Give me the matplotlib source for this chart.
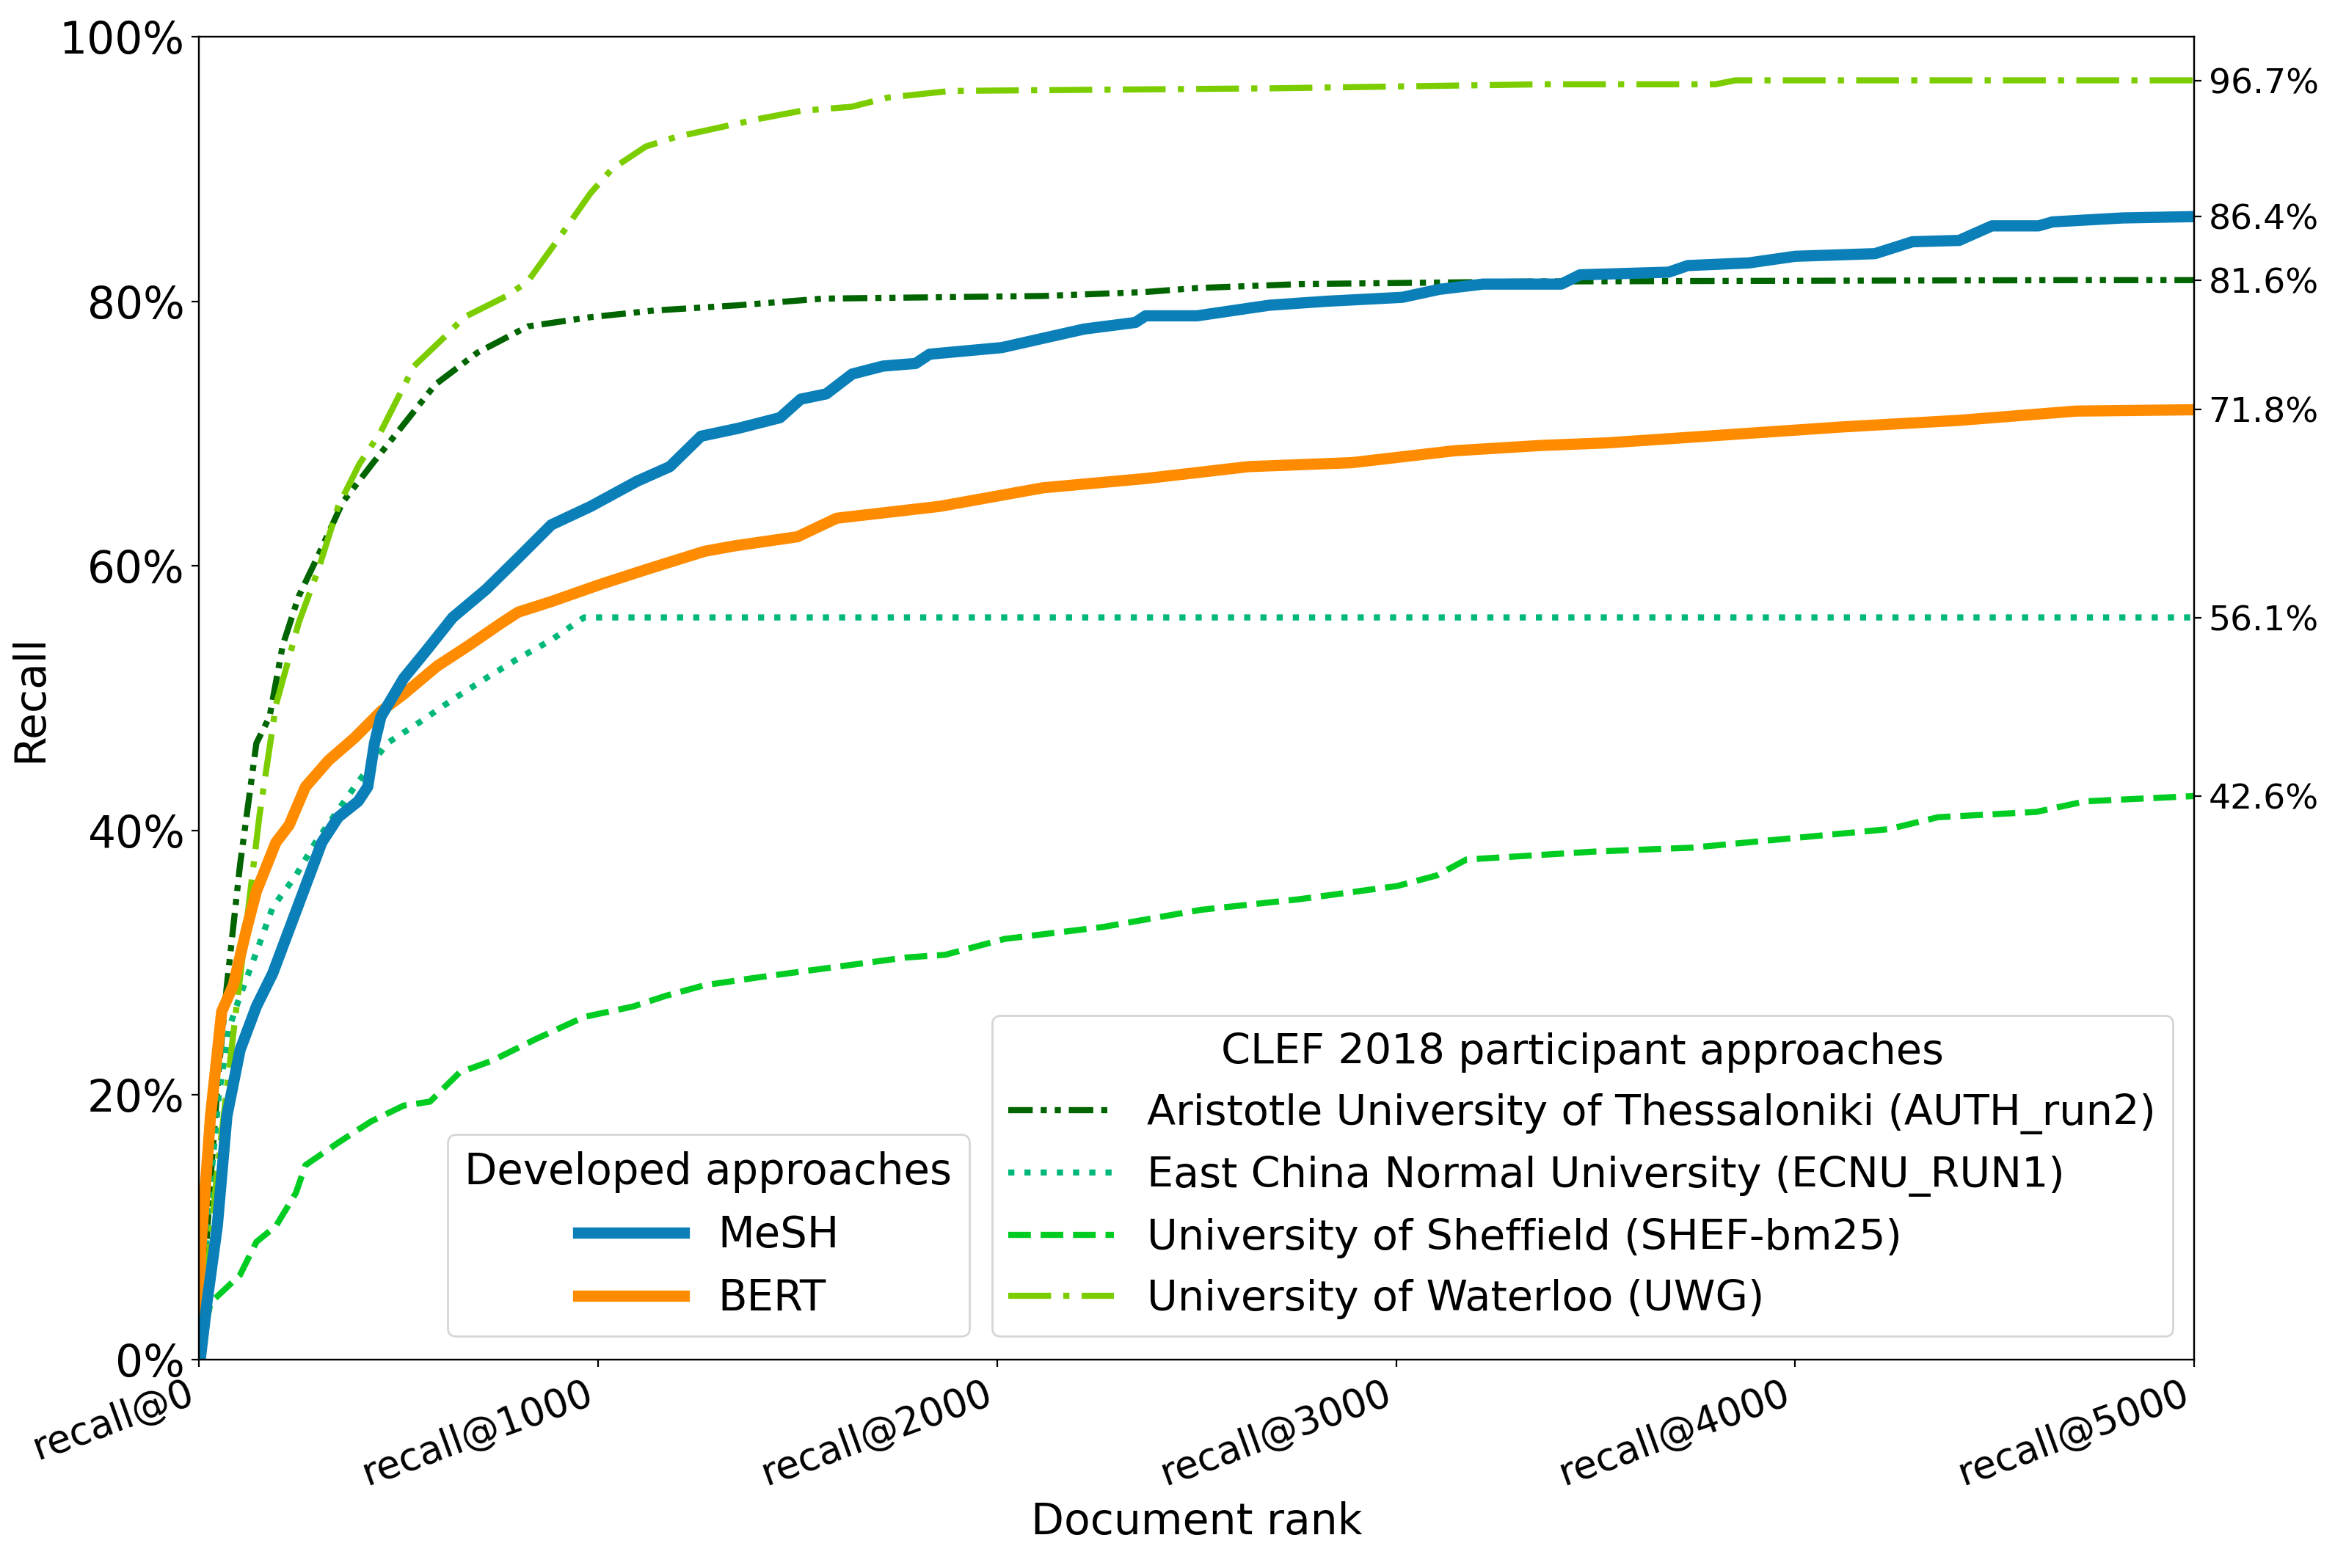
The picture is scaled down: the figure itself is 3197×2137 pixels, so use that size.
import matplotlib.pyplot as plt
from matplotlib.ticker import PercentFormatter

# --------------------
# data
# --------------------
mesh_docs = [0, 4, 20, 46, 70, 103, 144, 185, 226, 267, 308, 349, 399, 423, 440, 456,
             513, 570, 636, 719, 800, 883, 982, 1098, 1180, 1258, 1352, 1456, 1508, 1572,
             1637, 1714, 1796, 1831, 2012, 2115, 2218, 2347, 2372, 2501, 2682, 2825, 3016,
             3108, 3218, 3414, 3461, 3683, 3731, 3884, 4000, 4200, 4294, 4411, 4493, 4610,
             4645, 4821, 5000]
mesh = [0, 0.2, 4.3, 10.1, 18.4, 23.4, 26.7, 29.2, 32.5, 35.8, 39.1, 41.0, 42.2, 43.3, 46.6, 48.6,
        51.5, 53.6, 56.1, 58.2, 60.6, 63.1, 64.5, 66.4, 67.5, 69.8, 70.4, 71.2, 72.6, 73.0,
        74.5, 75.1, 75.3, 76.0, 76.5, 77.2, 77.9, 78.4, 78.9, 78.9, 79.7, 80.0, 80.3,
        80.9, 81.3, 81.3, 82.0, 82.2, 82.7, 82.9, 83.4, 83.6, 84.5, 84.6, 85.7, 85.7,
        86.0, 86.3, 86.4]

bert_docs = [0, 4, 29, 57, 86, 119, 144, 193, 226, 267, 325, 390, 456, 513, 596, 677, 759,
             800, 883, 1006, 1129, 1267, 1340, 1500, 1598, 1857, 2115, 2372, 2630, 2889,
             3146, 3363, 3531, 3825, 4117, 4411, 4704, 5000]
bert = [0, 8.1, 18.4, 26.3, 28.3, 32.5, 35.4, 39.1, 40.4, 43.3, 45.3, 47.0, 49.0, 50.3, 52.4, 54.0, 55.7,
        56.5, 57.3, 58.6, 59.8, 61.1, 61.5, 62.2, 63.6, 64.5, 65.9, 66.6, 67.5, 67.8,
        68.7, 69.1, 69.3, 69.9, 70.5, 71.0, 71.7, 71.8]

auth_docs = [0, 30, 50, 70, 103, 144, 177, 210, 250, 296, 360, 434, 508, 592, 697, 824, 982,
             1140, 1352, 1563, 2115, 2372, 2501, 2760, 3363, 4715, 5000]
auth = [0, 14.0, 22.0, 28.3, 37.4, 46.6, 48.6, 54.0, 57.7, 60.6, 64.8, 67.7, 70.5, 73.7, 76.1, 78.1, 78.8,
        79.3, 79.7, 80.2, 80.4, 80.7, 81.0, 81.3, 81.5, 81.6, 81.6]

ecnu_docs = [0, 25, 50, 75, 103, 144, 185, 243, 292, 390, 472, 554, 636, 719, 800, 883, 965, 5000]
ecnu = [0, 12.0, 20.0, 25.0, 27.5, 30.8, 34.2, 36.6, 39.1, 43.3, 46.6, 48.2, 49.9, 51.5, 53.0, 54.4, 56.1, 56.1]

shef_docs = [0, 29, 103, 144, 193, 243, 267, 349, 431, 513, 579, 653, 735, 842, 965, 1089,
             1170, 1267, 1403, 1773, 1870, 2019, 2265, 2511, 2757, 3003, 3102, 3176, 3496,
             3742, 3988, 4235, 4358, 4604, 4727, 5000]
shef = [0, 4.3, 6.4, 8.9, 10.1, 12.6, 14.7, 16.4, 18.0, 19.2, 19.5, 21.7, 22.6, 24.2, 25.9, 26.7,
        27.5, 28.3, 28.9, 30.4, 30.6, 31.8, 32.7, 34.0, 34.8, 35.8, 36.6, 37.8, 38.4,
        38.7, 39.4, 40.1, 41.0, 41.4, 42.2, 42.6]

uwg_docs = [0, 46, 86, 119, 152, 193, 250, 300, 349, 402, 455, 539, 612, 665, 771, 824, 898,
            982, 1035, 1120, 1193, 1299, 1405, 1510, 1635, 1727, 1883, 2696, 3363, 3800,
            3850, 5000]
uwg = [0, 14.3, 24.6, 32.9, 41.2, 49.5, 55.7, 59.8, 64.5, 67.7, 70.1, 75.1, 77.2, 78.8, 80.4, 81.5, 84.6,
       88.2, 90.0, 91.7, 92.4, 93.1, 93.8, 94.4, 94.7, 95.4, 95.9, 96.1, 96.4, 96.4,
       96.7, 96.7]

xtick_vals = [0, 1000, 2000, 3000, 4000, 5000]
xtick_labels = ["recall@" + str(v) for v in xtick_vals]

# --------------------
# figure
# --------------------
fig = plt.figure(figsize=(3197 / 200, 2137 / 200), dpi=200)
ax = fig.add_axes([0.0848, 0.1329, 0.8505, 0.8437])

l_auth, = ax.plot(auth_docs, auth, color="#006400", lw=3, linestyle=(0, (4, 1.3, 1, 1.3, 1, 1.3)),
                  label="Aristotle University of Thessaloniki (AUTH_run2)")
l_ecnu, = ax.plot(ecnu_docs, ecnu, color="#00b878", lw=3, linestyle=":",
                  label="East China Normal University (ECNU_RUN1)")
l_shef, = ax.plot(shef_docs, shef, color="#00cc22", lw=3, linestyle="--",
                  label="University of Sheffield (SHEF-bm25)")
l_uwg, = ax.plot(uwg_docs, uwg, color="#7ccd00", lw=3, linestyle=(0, (7, 2, 1, 2)),
                 label="University of Waterloo (UWG)")
l_bert, = ax.plot(bert_docs, bert, color="#ff8c00", lw=5.5, label="BERT")
l_mesh, = ax.plot(mesh_docs, mesh, color="#0a7fb8", lw=5.5, label="MeSH")

ax.set_xlim(0, 5000)
ax.set_ylim(0, 100)
ax.set_xticks(xtick_vals)
ax.set_xticklabels(xtick_labels, rotation=20, ha="right", fontsize=19)
ax.yaxis.set_major_formatter(PercentFormatter(decimals=0))
ax.tick_params(axis="y", labelsize=21.5)
ax.set_xlabel("Document rank", fontsize=21)
ax.set_ylabel("Recall", fontsize=21)

# right axis with final values
ax2 = ax.twinx()
ax2.set_ylim(0, 100)
finals = [uwg[-1], mesh[-1], auth[-1], bert[-1], ecnu[-1], shef[-1]]
ax2.set_yticks(finals)
ax2.set_yticklabels(["%.1f%%" % v for v in finals], fontsize=17)

leg1 = ax2.legend(handles=[l_mesh, l_bert], title="Developed approaches", fontsize=20.8,
                  title_fontsize=20.8, loc="lower right", bbox_to_anchor=(0.386, 0.0177),
                  borderaxespad=0, handlelength=2.5)
ax2.add_artist(leg1)
ax2.legend(handles=[l_auth, l_ecnu, l_shef, l_uwg], title="CLEF 2018 participant approaches",
           fontsize=20.6, title_fontsize=20.6, loc="lower right", bbox_to_anchor=(0.9893, 0.0177),
           borderaxespad=0, handlelength=2.5)

plt.savefig("out.png", dpi=200)
